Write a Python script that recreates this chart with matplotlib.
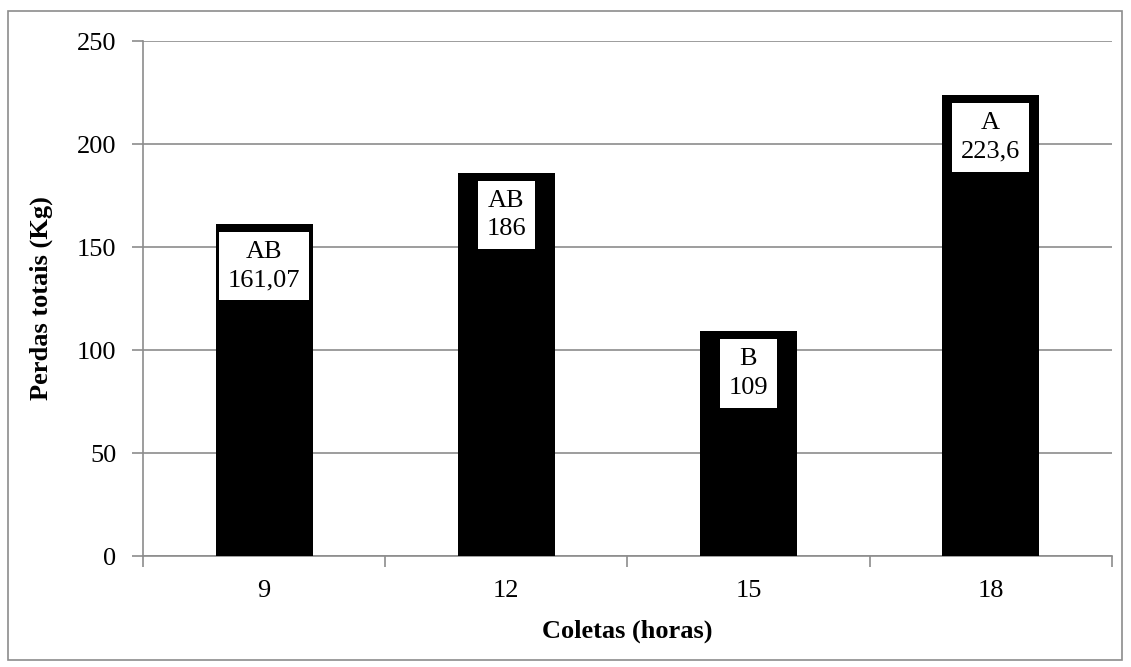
import matplotlib
matplotlib.use("Agg")
import matplotlib.pyplot as plt
from matplotlib.patches import Rectangle

categories = ["9", "12", "15", "18"]
values = [161.07, 186, 109, 223.6]
letters = ["AB", "AB", "B", "A"]
value_labels = ["161,07", "186", "109", "223,6"]
yticks = [0, 50, 100, 150, 200, 250]

plt.rcParams['font.family'] = ['Liberation Serif', 'DejaVu Serif']

fig = plt.figure(figsize=(11.31, 6.67), dpi=100)
ax = fig.add_axes([0.1264, 0.1664, 0.983 - 0.1264, 0.9385 - 0.1664])

gray = '#8c8c8c'
FS = 19
x = list(range(len(categories)))
ax.bar(x, values, width=0.4, color='black', zorder=3)

for xi, v, l, vl in zip(x, values, letters, value_labels):
    ax.annotate(f"{l}\n{vl}", xy=(xi, v), xytext=(0, -12), textcoords='offset points',
                ha='center', va='top', fontsize=FS, linespacing=1.4, zorder=5,
                bbox=dict(boxstyle='square,pad=0.33', fc='white', ec='none'))

ax.set_xlim(-0.5, len(categories) - 0.5)
ax.set_ylim(0, 250)
ax.set_yticks(yticks)
ax.set_yticklabels([str(t) for t in yticks], fontsize=FS)
ax.set_xticks(x)
ax.set_xticklabels(categories, fontsize=FS)
ax.tick_params(axis='x', length=0, pad=17)
ax.set_xticks([i - 0.5 for i in range(len(categories) + 1)], minor=True)
ax.tick_params(axis='x', which='minor', length=8, color=gray, width=1.2, direction='out')
ax.tick_params(axis='y', length=8, color=gray, width=1.2, pad=11)

ax.grid(axis='y', color=gray, linewidth=1.2, zorder=0)
for s in ['top', 'right']:
    ax.spines[s].set_visible(False)
for s in ['left', 'bottom']:
    ax.spines[s].set_color(gray)
    ax.spines[s].set_linewidth(1.2)

ax.set_ylabel("Perdas totais (Kg)", fontsize=FS, fontweight='bold', labelpad=17)
ax.set_xlabel("Coletas (horas)", fontsize=FS, fontweight='bold', labelpad=13)

fig.patches.append(Rectangle((8 / 1131, 1 - 660 / 667), (1122 - 8) / 1131, (660 - 11) / 667,
                             transform=fig.transFigure, fill=False, ec=gray, lw=1.2))

fig.savefig("out.png", dpi=100)
